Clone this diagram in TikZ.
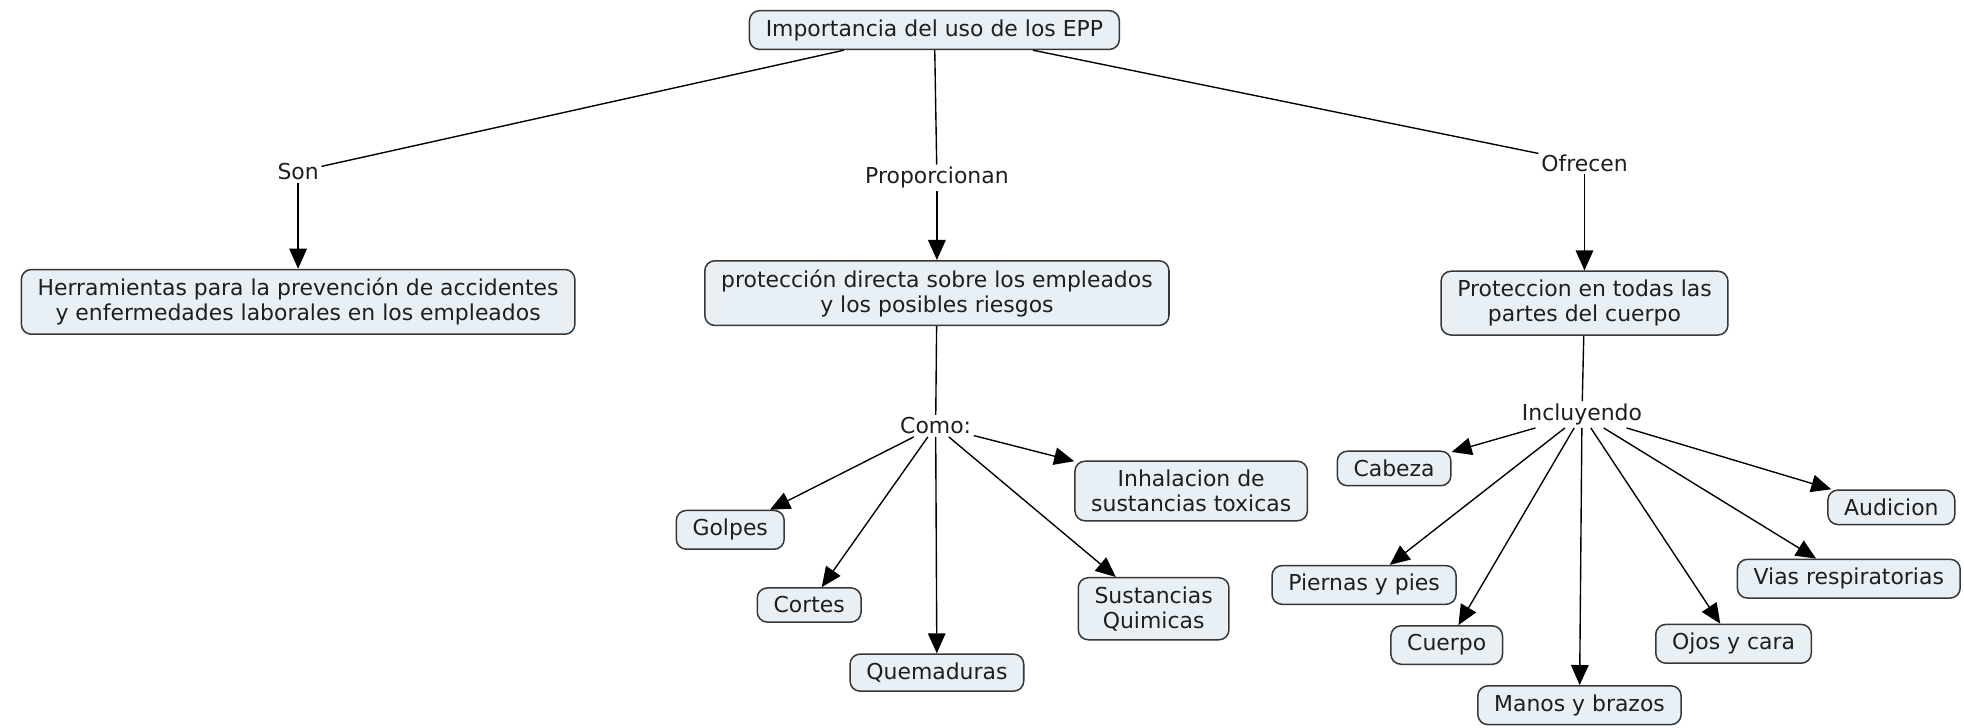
\documentclass[tikz,border=0pt]{standalone}
\usepackage{fontspec}
\setmainfont{DejaVu Sans}
\usetikzlibrary{arrows.meta}
\definecolor{boxfill}{RGB}{233,240,245}
\definecolor{boxline}{RGB}{55,55,55}
\definecolor{txt}{RGB}{30,30,30}
\begin{document}
\begin{tikzpicture}[x=1pt,y=-1pt,
  concept/.style={draw=boxline, fill=boxfill, rounded corners=8pt, line width=1.2pt,
    inner xsep=13pt, inner ysep=7pt, align=center,
    font=\fontsize{17.5}{20}\selectfont, text=txt},
  lbl/.style={inner sep=2pt, font=\fontsize{17.5}{20}\selectfont, text=txt},
  link/.style={draw=black, line width=1.1pt},
  arr/.style={link, -{Triangle[length=16pt,width=14pt]}}]
\useasboundingbox[fill=white] (0,0) rectangle (1568,581);

\node[concept] (top) at (746,24) {Importancia del uso de los EPP};
\node[lbl] (son) at (238,137) {Son};
\node[lbl] (prop) at (748,142) {Proporcionan};
\node[lbl] (ofr) at (1265,130) {Ofrecen};

\node[concept] (b1) at (238,241) {Herramientas para la prevención de accidentes\\ y enfermedades laborales en los empleados};
\node[concept] (b2) at (748,234) {protección directa sobre los empleados\\ y los posibles riesgos};
\node[concept] (b3) at (1265,242) {Proteccion en todas las\\ partes del cuerpo};

\node[lbl] (como) at (747,340) {Como:};
\node[lbl] (inc) at (1263,331) {Incluyendo};

\node[concept] (inh) at (951,392) {Inhalacion de\\ sustancias toxicas};
\node[concept] (gol) at (583,423) {Golpes};
\node[concept] (cor) at (646,483) {Cortes};
\node[concept] (que) at (748,537) {Quemaduras};
\node[concept] (sus) at (921,486) {Sustancias\\ Quimicas};

\node[concept] (cab) at (1113,374) {Cabeza};
\node[concept] (aud) at (1510,405) {Audicion};
\node[concept] (pie) at (1089,467) {Piernas y pies};
\node[concept] (via) at (1476,462) {Vias respiratorias};
\node[concept] (cue) at (1155,515) {Cuerpo};
\node[concept] (ojo) at (1384,514) {Ojos y cara};
\node[concept] (man) at (1261,563) {Manos y brazos};

\draw[link] (top) -- (son);
\draw[link] (top) -- (prop);
\draw[link] (top) -- (ofr);
\draw[arr] (son) -- (b1);
\draw[arr] (prop) -- (b2);
\draw[arr] (ofr) -- (b3);
\draw[link] (b2) -- (como);
\draw[link] (b3) -- (inc);

\foreach \t in {inh,gol,cor,que,sus} \draw[arr] (como) -- (\t);
\foreach \t in {cab,aud,pie,via,cue,ojo,man} \draw[arr] (inc) -- (\t);
\end{tikzpicture}
\end{document}
